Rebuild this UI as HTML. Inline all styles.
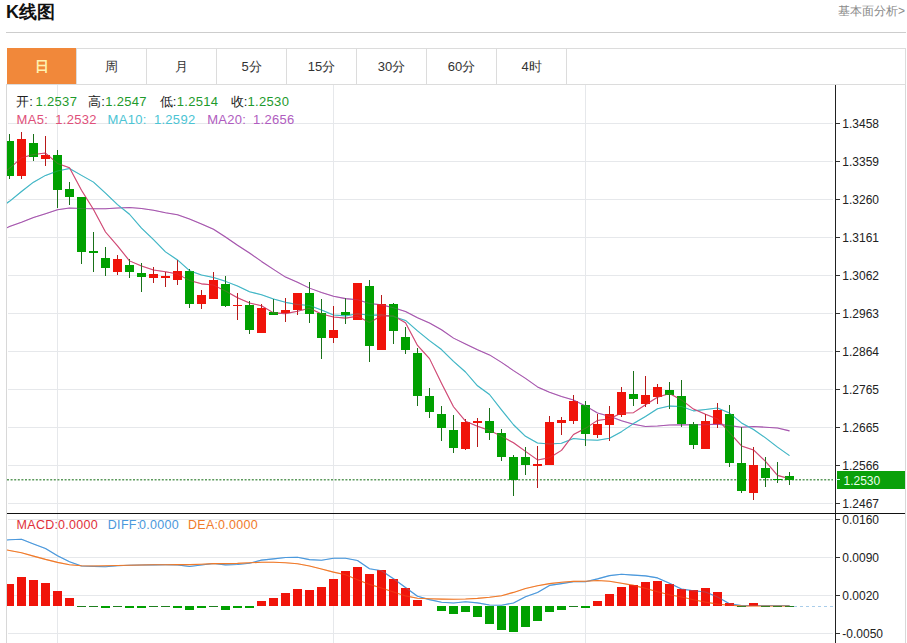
<!DOCTYPE html>
<html><head><meta charset="utf-8">
<style>
*{margin:0;padding:0;box-sizing:border-box}
html,body{width:907px;height:643px;overflow:hidden;background:#fff}
body{position:relative;font-family:"Liberation Sans",sans-serif;color:#333}
.t{position:absolute;white-space:nowrap;line-height:1}
#title{left:6px;top:2px;font-size:18px;font-weight:bold;color:#111;line-height:20px}
#more{right:2px;top:5px;font-size:12px;color:#8a8a8a;line-height:13px}
#hr{position:absolute;left:6px;top:32px;width:900px;height:1px;background:#cdcdcd}
#tabs{position:absolute;left:7px;top:48px;width:899px;height:37px;border:1px solid #dcdcdc;border-left:none}
.tab{position:absolute;top:48px;height:37px;width:70px;border-right:1px solid #dcdcdc;border-top:1px solid #dcdcdc;border-bottom:1px solid #dcdcdc;font-size:13px;line-height:35px;text-align:center;color:#333}
.tab.on{background:#f1883a;color:#fff2b0;border:none;border-right:1px solid #dcdcdc;background-clip:padding-box;height:36px;width:70px;line-height:36px;font-size:14px;font-weight:bold}
#panel{position:absolute;left:6px;top:84px;width:900px;height:570px;border-left:1px solid #d8d8d8;border-right:1px solid #d8d8d8}
.yl{position:absolute;left:842.3px;font-size:12px;line-height:14px;color:#222}
.hd{position:absolute;font-size:13px;line-height:15px;letter-spacing:0.3px}
</style></head><body>
<div class="t" id="title">K线图</div>
<div class="t" id="more">基本面分析&gt;</div>
<div id="hr"></div>
<div id="panel"></div>
<div id="tabs"></div>
<div class="tab on" style="left:7px">日</div>
<div class="tab" style="left:77px">周</div>
<div class="tab" style="left:147px">月</div>
<div class="tab" style="left:217px">5分</div>
<div class="tab" style="left:287px">15分</div>
<div class="tab" style="left:357px">30分</div>
<div class="tab" style="left:427px">60分</div>
<div class="tab" style="left:497px">4时</div>
<svg width="907" height="643" viewBox="0 0 907 643" style="position:absolute;left:0;top:0">
<defs><clipPath id="pc"><rect x="7" y="85" width="828" height="428"/></clipPath><clipPath id="mc"><rect x="7" y="514" width="828" height="129"/></clipPath></defs>
<path d="M8,123.5H833M8,161.5H833M8,199.5H833M8,237.5H833M8,275.5H833M8,313.5H833M8,351.5H833M8,389.5H833M8,427.5H833M8,465.5H833M8,503.5H833M8,519.5H833M8,557.5H833M8,595.5H833M8,633.5H833M57.5,85V643M333.5,85V643M585.5,85V643" stroke="#e6e8eb" stroke-width="1" fill="none"/>
<path d="M836,123.5H840M836,161.5H840M836,199.5H840M836,237.5H840M836,275.5H840M836,313.5H840M836,351.5H840M836,389.5H840M836,427.5H840M836,465.5H840M836,503.5H840M836,519.5H840M836,557.5H840M836,595.5H840M836,633.5H840" stroke="#333" stroke-width="1" fill="none"/>
<path d="M7,479.8H833" stroke="#5c9a5c" stroke-width="1.5" stroke-dasharray="2 1.6" fill="none"/>
<g clip-path="url(#pc)" fill="none" stroke-width="1.05" stroke-linejoin="round" opacity="1">
<path d="M-2.50,231.90L9.50,226.60L21.50,222.30L33.50,217.60L45.50,213.70L57.50,209.80L69.50,208.00L81.50,208.60L93.50,208.80L105.50,208.80L117.50,208.00L129.50,207.60L141.50,208.50L153.50,210.20L165.50,212.80L177.50,214.80L189.50,219.10L201.50,223.90L213.50,229.30L225.50,237.00L237.50,245.28L249.50,252.99L261.50,261.44L273.50,269.36L285.50,277.09L297.50,282.25L309.50,288.12L321.50,292.43L333.50,296.25L345.50,298.63L357.50,299.84L369.50,303.52L381.50,304.87L393.50,307.71L405.50,311.41L417.50,317.68L429.50,323.07L441.50,329.73L453.50,338.13L465.50,343.94L477.50,349.76L489.50,354.91L501.50,362.35L513.50,370.59L525.50,378.37L537.50,386.92L549.50,392.30L561.50,396.42L573.50,399.96L585.50,405.92L597.50,412.98L609.50,416.36L621.50,420.75L633.50,424.16L645.50,426.41L657.50,425.93L669.50,425.08L681.50,424.89L693.50,424.74L705.50,424.68L717.50,424.12L729.50,425.63L741.50,427.31L753.50,426.55L765.50,427.19L777.50,427.99L789.50,430.88" stroke="#a656ae"/>
<path d="M-2.50,209.50L9.50,201.30L21.50,191.50L33.50,182.20L45.50,175.40L57.50,170.90L69.50,168.50L81.50,175.40L93.50,182.10L105.50,193.10L117.50,204.60L129.50,214.26L141.50,228.05L153.50,239.73L165.50,251.82L177.50,259.95L189.50,270.64L201.50,274.90L213.50,277.56L225.50,281.37L237.50,285.96L249.50,291.72L261.50,294.84L273.50,298.99L285.50,302.36L297.50,304.55L309.50,305.60L321.50,309.95L333.50,314.94L345.50,315.89L357.50,313.73L369.50,315.32L381.50,314.89L393.50,316.43L405.50,320.46L417.50,330.80L429.50,340.55L441.50,349.51L453.50,361.32L465.50,371.99L477.50,385.79L489.50,394.50L501.50,409.82L513.50,424.75L525.50,436.28L537.50,443.04L549.50,444.05L561.50,443.33L573.50,438.60L585.50,439.84L597.50,440.16L609.50,438.22L621.50,431.67L633.50,423.57L645.50,416.54L657.50,408.81L669.50,406.11L681.50,406.46L693.50,410.87L705.50,409.52L717.50,408.09L729.50,413.04L741.50,422.94L753.50,429.53L765.50,437.83L777.50,447.17L789.50,455.64" stroke="#40b6c6"/>
<path d="M-2.50,177.40L9.50,168.30L21.50,157.80L33.50,154.40L45.50,153.10L57.50,163.40L69.50,167.64L81.50,190.16L93.50,209.44L105.50,231.98L117.50,245.80L129.50,260.88L141.50,265.94L153.50,270.02L165.50,271.66L177.50,274.10L189.50,280.40L201.50,283.86L213.50,285.10L225.50,291.08L237.50,297.82L249.50,303.04L261.50,305.82L273.50,312.88L285.50,313.64L297.50,311.28L309.50,308.16L321.50,314.08L333.50,317.00L345.50,318.14L357.50,316.18L369.50,322.48L381.50,315.70L393.50,315.86L405.50,322.78L417.50,345.42L429.50,358.62L441.50,383.32L453.50,406.78L465.50,421.20L477.50,426.16L489.50,430.38L501.50,436.32L513.50,442.72L525.50,451.36L537.50,459.92L549.50,457.72L561.50,450.34L573.50,434.48L585.50,428.32L597.50,420.40L609.50,418.72L621.50,413.00L633.50,412.66L645.50,404.76L657.50,397.22L669.50,393.50L681.50,399.92L693.50,409.08L705.50,414.28L717.50,418.96L729.50,432.58L741.50,445.96L753.50,449.98L765.50,461.38L777.50,475.38L789.50,478.70" stroke="#d04874"/>
</g>
<g clip-path="url(#pc)" shape-rendering="crispEdges">
<rect x="9" y="134" width="1" height="45" fill="#197019"/>
<rect x="5" y="141" width="9" height="35" fill="#00a000"/>
<rect x="21" y="132" width="1" height="47" fill="#b81818"/>
<rect x="17" y="139" width="9" height="37" fill="#f0140a"/>
<rect x="33" y="134" width="1" height="27" fill="#197019"/>
<rect x="29" y="143" width="9" height="14" fill="#00a000"/>
<rect x="45" y="136" width="1" height="30" fill="#b81818"/>
<rect x="41" y="155" width="9" height="4" fill="#f0140a"/>
<rect x="57" y="150" width="1" height="58" fill="#197019"/>
<rect x="53" y="155" width="9" height="35" fill="#00a000"/>
<rect x="69" y="182" width="1" height="23" fill="#197019"/>
<rect x="65" y="189" width="9" height="8" fill="#00a000"/>
<rect x="81" y="197" width="1" height="67" fill="#197019"/>
<rect x="77" y="197" width="9" height="55" fill="#00a000"/>
<rect x="93" y="232" width="1" height="40" fill="#197019"/>
<rect x="89" y="251" width="9" height="2" fill="#00a000"/>
<rect x="105" y="247" width="1" height="29" fill="#197019"/>
<rect x="101" y="258" width="9" height="10" fill="#00a000"/>
<rect x="117" y="255" width="1" height="20" fill="#b81818"/>
<rect x="113" y="259" width="9" height="13" fill="#f0140a"/>
<rect x="129" y="259" width="1" height="19" fill="#197019"/>
<rect x="125" y="265" width="9" height="7" fill="#00a000"/>
<rect x="141" y="263" width="1" height="29" fill="#197019"/>
<rect x="137" y="273" width="9" height="4" fill="#00a000"/>
<rect x="153" y="267" width="1" height="16" fill="#b81818"/>
<rect x="149" y="274" width="9" height="4" fill="#f0140a"/>
<rect x="165" y="272" width="1" height="15" fill="#b81818"/>
<rect x="161" y="276" width="9" height="2" fill="#f0140a"/>
<rect x="177" y="260" width="1" height="25" fill="#b81818"/>
<rect x="173" y="271" width="9" height="9" fill="#f0140a"/>
<rect x="189" y="269" width="1" height="39" fill="#197019"/>
<rect x="185" y="271" width="9" height="33" fill="#00a000"/>
<rect x="201" y="290" width="1" height="19" fill="#b81818"/>
<rect x="197" y="295" width="9" height="9" fill="#f0140a"/>
<rect x="213" y="272" width="1" height="27" fill="#b81818"/>
<rect x="209" y="280" width="9" height="19" fill="#f0140a"/>
<rect x="225" y="276" width="1" height="31" fill="#197019"/>
<rect x="221" y="284" width="9" height="22" fill="#00a000"/>
<rect x="237" y="293" width="1" height="27" fill="#b81818"/>
<rect x="233" y="305" width="9" height="1" fill="#f0140a"/>
<rect x="249" y="301" width="1" height="33" fill="#197019"/>
<rect x="245" y="305" width="9" height="25" fill="#00a000"/>
<rect x="261" y="304" width="1" height="29" fill="#b81818"/>
<rect x="257" y="308" width="9" height="25" fill="#f0140a"/>
<rect x="273" y="299" width="1" height="16" fill="#197019"/>
<rect x="269" y="312" width="9" height="3" fill="#00a000"/>
<rect x="285" y="298" width="1" height="24" fill="#b81818"/>
<rect x="281" y="310" width="9" height="3" fill="#f0140a"/>
<rect x="297" y="293" width="1" height="22" fill="#b81818"/>
<rect x="293" y="293" width="9" height="17" fill="#f0140a"/>
<rect x="309" y="282" width="1" height="41" fill="#197019"/>
<rect x="305" y="293" width="9" height="21" fill="#00a000"/>
<rect x="321" y="299" width="1" height="60" fill="#197019"/>
<rect x="317" y="313" width="9" height="25" fill="#00a000"/>
<rect x="333" y="306" width="1" height="37" fill="#b81818"/>
<rect x="329" y="330" width="9" height="8" fill="#f0140a"/>
<rect x="345" y="298" width="1" height="26" fill="#197019"/>
<rect x="341" y="312" width="9" height="3" fill="#00a000"/>
<rect x="357" y="283" width="1" height="37" fill="#b81818"/>
<rect x="353" y="283" width="9" height="37" fill="#f0140a"/>
<rect x="369" y="280" width="1" height="82" fill="#197019"/>
<rect x="365" y="286" width="9" height="60" fill="#00a000"/>
<rect x="381" y="295" width="1" height="55" fill="#b81818"/>
<rect x="377" y="304" width="9" height="46" fill="#f0140a"/>
<rect x="393" y="303" width="1" height="41" fill="#197019"/>
<rect x="389" y="304" width="9" height="27" fill="#00a000"/>
<rect x="405" y="327" width="1" height="27" fill="#197019"/>
<rect x="401" y="337" width="9" height="13" fill="#00a000"/>
<rect x="417" y="348" width="1" height="58" fill="#197019"/>
<rect x="413" y="353" width="9" height="43" fill="#00a000"/>
<rect x="429" y="388" width="1" height="30" fill="#197019"/>
<rect x="425" y="396" width="9" height="16" fill="#00a000"/>
<rect x="441" y="406" width="1" height="35" fill="#197019"/>
<rect x="437" y="414" width="9" height="14" fill="#00a000"/>
<rect x="453" y="415" width="1" height="38" fill="#197019"/>
<rect x="449" y="430" width="9" height="18" fill="#00a000"/>
<rect x="465" y="419" width="1" height="31" fill="#b81818"/>
<rect x="461" y="422" width="9" height="27" fill="#f0140a"/>
<rect x="477" y="418" width="1" height="29" fill="#b81818"/>
<rect x="473" y="421" width="9" height="2" fill="#f0140a"/>
<rect x="489" y="408" width="1" height="32" fill="#197019"/>
<rect x="485" y="421" width="9" height="12" fill="#00a000"/>
<rect x="501" y="429" width="1" height="32" fill="#197019"/>
<rect x="497" y="433" width="9" height="24" fill="#00a000"/>
<rect x="513" y="455" width="1" height="41" fill="#197019"/>
<rect x="509" y="457" width="9" height="23" fill="#00a000"/>
<rect x="525" y="447" width="1" height="28" fill="#197019"/>
<rect x="521" y="457" width="9" height="8" fill="#00a000"/>
<rect x="537" y="446" width="1" height="42" fill="#b81818"/>
<rect x="533" y="464" width="9" height="2" fill="#f0140a"/>
<rect x="549" y="416" width="1" height="49" fill="#b81818"/>
<rect x="545" y="422" width="9" height="43" fill="#f0140a"/>
<rect x="561" y="417" width="1" height="18" fill="#b81818"/>
<rect x="557" y="420" width="9" height="3" fill="#f0140a"/>
<rect x="573" y="395" width="1" height="29" fill="#b81818"/>
<rect x="569" y="401" width="9" height="20" fill="#f0140a"/>
<rect x="585" y="401" width="1" height="45" fill="#197019"/>
<rect x="581" y="405" width="9" height="29" fill="#00a000"/>
<rect x="597" y="414" width="1" height="24" fill="#b81818"/>
<rect x="593" y="424" width="9" height="11" fill="#f0140a"/>
<rect x="609" y="406" width="1" height="35" fill="#b81818"/>
<rect x="605" y="414" width="9" height="11" fill="#f0140a"/>
<rect x="621" y="387" width="1" height="30" fill="#b81818"/>
<rect x="617" y="392" width="9" height="23" fill="#f0140a"/>
<rect x="633" y="371" width="1" height="35" fill="#197019"/>
<rect x="629" y="394" width="9" height="5" fill="#00a000"/>
<rect x="645" y="376" width="1" height="31" fill="#b81818"/>
<rect x="641" y="395" width="9" height="9" fill="#f0140a"/>
<rect x="657" y="384" width="1" height="20" fill="#b81818"/>
<rect x="653" y="387" width="9" height="10" fill="#f0140a"/>
<rect x="669" y="382" width="1" height="27" fill="#197019"/>
<rect x="665" y="390" width="9" height="5" fill="#00a000"/>
<rect x="681" y="380" width="1" height="47" fill="#197019"/>
<rect x="677" y="396" width="9" height="28" fill="#00a000"/>
<rect x="693" y="422" width="1" height="27" fill="#197019"/>
<rect x="689" y="424" width="9" height="21" fill="#00a000"/>
<rect x="705" y="414" width="1" height="35" fill="#b81818"/>
<rect x="701" y="421" width="9" height="28" fill="#f0140a"/>
<rect x="717" y="403" width="1" height="25" fill="#b81818"/>
<rect x="713" y="410" width="9" height="14" fill="#f0140a"/>
<rect x="729" y="405" width="1" height="62" fill="#197019"/>
<rect x="725" y="414" width="9" height="49" fill="#00a000"/>
<rect x="741" y="427" width="1" height="66" fill="#197019"/>
<rect x="737" y="463" width="9" height="28" fill="#00a000"/>
<rect x="753" y="447" width="1" height="53" fill="#b81818"/>
<rect x="749" y="465" width="9" height="28" fill="#f0140a"/>
<rect x="765" y="457" width="1" height="30" fill="#197019"/>
<rect x="761" y="468" width="9" height="10" fill="#00a000"/>
<rect x="777" y="462" width="1" height="21" fill="#197019"/>
<rect x="773" y="479" width="9" height="1" fill="#00a000"/>
<rect x="789" y="472" width="1" height="13" fill="#197019"/>
<rect x="785" y="476" width="9" height="4" fill="#00a000"/>
</g>
<g clip-path="url(#pc)" fill="none" stroke-width="1.05" stroke-linejoin="round" opacity="0.3">
<path d="M-2.50,231.90L9.50,226.60L21.50,222.30L33.50,217.60L45.50,213.70L57.50,209.80L69.50,208.00L81.50,208.60L93.50,208.80L105.50,208.80L117.50,208.00L129.50,207.60L141.50,208.50L153.50,210.20L165.50,212.80L177.50,214.80L189.50,219.10L201.50,223.90L213.50,229.30L225.50,237.00L237.50,245.28L249.50,252.99L261.50,261.44L273.50,269.36L285.50,277.09L297.50,282.25L309.50,288.12L321.50,292.43L333.50,296.25L345.50,298.63L357.50,299.84L369.50,303.52L381.50,304.87L393.50,307.71L405.50,311.41L417.50,317.68L429.50,323.07L441.50,329.73L453.50,338.13L465.50,343.94L477.50,349.76L489.50,354.91L501.50,362.35L513.50,370.59L525.50,378.37L537.50,386.92L549.50,392.30L561.50,396.42L573.50,399.96L585.50,405.92L597.50,412.98L609.50,416.36L621.50,420.75L633.50,424.16L645.50,426.41L657.50,425.93L669.50,425.08L681.50,424.89L693.50,424.74L705.50,424.68L717.50,424.12L729.50,425.63L741.50,427.31L753.50,426.55L765.50,427.19L777.50,427.99L789.50,430.88" stroke="#a656ae"/>
<path d="M-2.50,209.50L9.50,201.30L21.50,191.50L33.50,182.20L45.50,175.40L57.50,170.90L69.50,168.50L81.50,175.40L93.50,182.10L105.50,193.10L117.50,204.60L129.50,214.26L141.50,228.05L153.50,239.73L165.50,251.82L177.50,259.95L189.50,270.64L201.50,274.90L213.50,277.56L225.50,281.37L237.50,285.96L249.50,291.72L261.50,294.84L273.50,298.99L285.50,302.36L297.50,304.55L309.50,305.60L321.50,309.95L333.50,314.94L345.50,315.89L357.50,313.73L369.50,315.32L381.50,314.89L393.50,316.43L405.50,320.46L417.50,330.80L429.50,340.55L441.50,349.51L453.50,361.32L465.50,371.99L477.50,385.79L489.50,394.50L501.50,409.82L513.50,424.75L525.50,436.28L537.50,443.04L549.50,444.05L561.50,443.33L573.50,438.60L585.50,439.84L597.50,440.16L609.50,438.22L621.50,431.67L633.50,423.57L645.50,416.54L657.50,408.81L669.50,406.11L681.50,406.46L693.50,410.87L705.50,409.52L717.50,408.09L729.50,413.04L741.50,422.94L753.50,429.53L765.50,437.83L777.50,447.17L789.50,455.64" stroke="#40b6c6"/>
<path d="M-2.50,177.40L9.50,168.30L21.50,157.80L33.50,154.40L45.50,153.10L57.50,163.40L69.50,167.64L81.50,190.16L93.50,209.44L105.50,231.98L117.50,245.80L129.50,260.88L141.50,265.94L153.50,270.02L165.50,271.66L177.50,274.10L189.50,280.40L201.50,283.86L213.50,285.10L225.50,291.08L237.50,297.82L249.50,303.04L261.50,305.82L273.50,312.88L285.50,313.64L297.50,311.28L309.50,308.16L321.50,314.08L333.50,317.00L345.50,318.14L357.50,316.18L369.50,322.48L381.50,315.70L393.50,315.86L405.50,322.78L417.50,345.42L429.50,358.62L441.50,383.32L453.50,406.78L465.50,421.20L477.50,426.16L489.50,430.38L501.50,436.32L513.50,442.72L525.50,451.36L537.50,459.92L549.50,457.72L561.50,450.34L573.50,434.48L585.50,428.32L597.50,420.40L609.50,418.72L621.50,413.00L633.50,412.66L645.50,404.76L657.50,397.22L669.50,393.50L681.50,399.92L693.50,409.08L705.50,414.28L717.50,418.96L729.50,432.58L741.50,445.96L753.50,449.98L765.50,461.38L777.50,475.38L789.50,478.70" stroke="#d04874"/>
</g>
<path d="M794,606.5H833" stroke="#a9cdea" stroke-width="1" stroke-dasharray="3 3" fill="none"/>
<g clip-path="url(#mc)" fill="none" stroke-width="1.1" stroke-linejoin="round" opacity="1">
<path d="M-2.50,540.86L9.50,539.70L21.50,539.30L33.50,543.90L45.50,548.50L57.50,555.80L69.50,561.80L81.50,566.00L93.50,566.40L105.50,566.80L117.50,565.70L129.50,565.20L141.50,565.00L153.50,564.90L165.50,564.80L177.50,564.90L189.50,566.50L201.50,565.00L213.50,563.50L225.50,564.90L237.50,564.50L249.50,563.20L261.50,560.10L273.50,558.90L285.50,557.50L297.50,557.20L309.50,559.60L321.50,560.30L333.50,558.20L345.50,558.20L357.50,560.50L369.50,568.80L381.50,570.80L393.50,578.70L405.50,587.50L417.50,596.30L429.50,599.60L441.50,602.20L453.50,603.00L465.50,601.80L477.50,602.90L489.50,605.00L501.50,605.20L513.50,603.00L525.50,596.80L537.50,592.40L549.50,585.40L561.50,583.60L573.50,581.80L585.50,581.80L597.50,578.90L609.50,575.60L621.50,574.20L633.50,575.10L645.50,575.90L657.50,577.90L669.50,583.20L681.50,589.10L693.50,590.70L705.50,592.00L717.50,597.00L729.50,603.70L741.50,605.60L753.50,605.50L765.50,605.50L777.50,605.50L789.50,605.50" stroke="#4a98dc"/>
<path d="M-2.50,548.18L9.50,550.50L21.50,552.80L33.50,556.10L45.50,559.40L57.50,562.40L69.50,564.70L81.50,565.70L93.50,566.00L105.50,565.70L117.50,565.50L129.50,565.20L141.50,565.00L153.50,564.80L165.50,564.70L177.50,564.60L189.50,564.60L201.50,564.20L213.50,563.60L225.50,563.60L237.50,563.40L249.50,562.80L261.50,562.20L273.50,562.20L285.50,562.80L297.50,563.80L309.50,566.00L321.50,569.00L333.50,572.10L345.50,574.80L357.50,579.70L369.50,584.40L381.50,588.00L393.50,592.00L405.50,595.90L417.50,598.30L429.50,598.80L441.50,599.10L453.50,599.30L465.50,599.00L477.50,598.40L489.50,597.20L501.50,595.70L513.50,592.40L525.50,588.50L537.50,585.80L549.50,583.60L561.50,582.20L573.50,581.40L585.50,581.20L597.50,580.50L609.50,581.20L621.50,583.20L633.50,585.40L645.50,588.40L657.50,591.80L669.50,594.70L681.50,597.00L693.50,599.70L705.50,602.10L717.50,604.10L729.50,605.20L741.50,605.90L753.50,606.00L765.50,606.00L777.50,606.00L789.50,606.00" stroke="#f07a2a"/>
</g>
<g clip-path="url(#mc)" shape-rendering="crispEdges">
<rect x="5" y="584" width="9" height="22" fill="#f0140a"/>
<rect x="17" y="577" width="9" height="29" fill="#f0140a"/>
<rect x="29" y="580" width="9" height="26" fill="#f0140a"/>
<rect x="41" y="583" width="9" height="23" fill="#f0140a"/>
<rect x="53" y="591" width="9" height="15" fill="#f0140a"/>
<rect x="65" y="598" width="9" height="8" fill="#f0140a"/>
<rect x="77" y="606" width="9" height="1" fill="#1f7f1f"/>
<rect x="89" y="606" width="9" height="1" fill="#1f7f1f"/>
<rect x="101" y="606" width="9" height="2" fill="#00a000"/>
<rect x="113" y="606" width="9" height="1" fill="#1f7f1f"/>
<rect x="125" y="606" width="9" height="2" fill="#00a000"/>
<rect x="137" y="606" width="9" height="2" fill="#00a000"/>
<rect x="149" y="606" width="9" height="1" fill="#1f7f1f"/>
<rect x="161" y="606" width="9" height="1" fill="#1f7f1f"/>
<rect x="173" y="606" width="9" height="2" fill="#00a000"/>
<rect x="185" y="606" width="9" height="4" fill="#00a000"/>
<rect x="197" y="606" width="9" height="2" fill="#00a000"/>
<rect x="209" y="606" width="9" height="1" fill="#1f7f1f"/>
<rect x="221" y="606" width="9" height="4" fill="#00a000"/>
<rect x="233" y="606" width="9" height="2" fill="#00a000"/>
<rect x="245" y="606" width="9" height="2" fill="#00a000"/>
<rect x="257" y="601" width="9" height="5" fill="#f0140a"/>
<rect x="269" y="598" width="9" height="8" fill="#f0140a"/>
<rect x="281" y="593" width="9" height="13" fill="#f0140a"/>
<rect x="293" y="589" width="9" height="17" fill="#f0140a"/>
<rect x="305" y="590" width="9" height="16" fill="#f0140a"/>
<rect x="317" y="587" width="9" height="19" fill="#f0140a"/>
<rect x="329" y="579" width="9" height="27" fill="#f0140a"/>
<rect x="341" y="571" width="9" height="35" fill="#f0140a"/>
<rect x="353" y="567" width="9" height="39" fill="#f0140a"/>
<rect x="365" y="574" width="9" height="32" fill="#f0140a"/>
<rect x="377" y="570" width="9" height="36" fill="#f0140a"/>
<rect x="389" y="579" width="9" height="27" fill="#f0140a"/>
<rect x="401" y="588" width="9" height="18" fill="#f0140a"/>
<rect x="413" y="600" width="9" height="6" fill="#f0140a"/>
<rect x="437" y="606" width="9" height="5" fill="#00a000"/>
<rect x="449" y="606" width="9" height="8" fill="#00a000"/>
<rect x="461" y="606" width="9" height="6" fill="#00a000"/>
<rect x="473" y="606" width="9" height="11" fill="#00a000"/>
<rect x="485" y="606" width="9" height="18" fill="#00a000"/>
<rect x="497" y="606" width="9" height="24" fill="#00a000"/>
<rect x="509" y="606" width="9" height="26" fill="#00a000"/>
<rect x="521" y="606" width="9" height="21" fill="#00a000"/>
<rect x="533" y="606" width="9" height="15" fill="#00a000"/>
<rect x="545" y="606" width="9" height="6" fill="#00a000"/>
<rect x="557" y="606" width="9" height="4" fill="#00a000"/>
<rect x="569" y="606" width="9" height="1" fill="#1f7f1f"/>
<rect x="581" y="606" width="9" height="2" fill="#00a000"/>
<rect x="593" y="601" width="9" height="5" fill="#f0140a"/>
<rect x="605" y="594" width="9" height="12" fill="#f0140a"/>
<rect x="617" y="587" width="9" height="19" fill="#f0140a"/>
<rect x="629" y="585" width="9" height="21" fill="#f0140a"/>
<rect x="641" y="582" width="9" height="24" fill="#f0140a"/>
<rect x="653" y="581" width="9" height="25" fill="#f0140a"/>
<rect x="665" y="584" width="9" height="22" fill="#f0140a"/>
<rect x="677" y="589" width="9" height="17" fill="#f0140a"/>
<rect x="689" y="590" width="9" height="16" fill="#f0140a"/>
<rect x="701" y="588" width="9" height="18" fill="#f0140a"/>
<rect x="713" y="592" width="9" height="14" fill="#f0140a"/>
<rect x="725" y="603" width="9" height="3" fill="#f0140a"/>
<rect x="737" y="606" width="9" height="1" fill="#1f7f1f"/>
<rect x="749" y="603" width="9" height="3" fill="#f0140a"/>
<rect x="761" y="606" width="9" height="1" fill="#1f7f1f"/>
<rect x="773" y="606" width="9" height="1" fill="#1f7f1f"/>
<rect x="785" y="606" width="9" height="1" fill="#1f7f1f"/>
</g>
<g clip-path="url(#mc)" fill="none" stroke-width="1.1" stroke-linejoin="round" opacity="0.3">
<path d="M-2.50,540.86L9.50,539.70L21.50,539.30L33.50,543.90L45.50,548.50L57.50,555.80L69.50,561.80L81.50,566.00L93.50,566.40L105.50,566.80L117.50,565.70L129.50,565.20L141.50,565.00L153.50,564.90L165.50,564.80L177.50,564.90L189.50,566.50L201.50,565.00L213.50,563.50L225.50,564.90L237.50,564.50L249.50,563.20L261.50,560.10L273.50,558.90L285.50,557.50L297.50,557.20L309.50,559.60L321.50,560.30L333.50,558.20L345.50,558.20L357.50,560.50L369.50,568.80L381.50,570.80L393.50,578.70L405.50,587.50L417.50,596.30L429.50,599.60L441.50,602.20L453.50,603.00L465.50,601.80L477.50,602.90L489.50,605.00L501.50,605.20L513.50,603.00L525.50,596.80L537.50,592.40L549.50,585.40L561.50,583.60L573.50,581.80L585.50,581.80L597.50,578.90L609.50,575.60L621.50,574.20L633.50,575.10L645.50,575.90L657.50,577.90L669.50,583.20L681.50,589.10L693.50,590.70L705.50,592.00L717.50,597.00L729.50,603.70L741.50,605.60L753.50,605.50L765.50,605.50L777.50,605.50L789.50,605.50" stroke="#4a98dc"/>
<path d="M-2.50,548.18L9.50,550.50L21.50,552.80L33.50,556.10L45.50,559.40L57.50,562.40L69.50,564.70L81.50,565.70L93.50,566.00L105.50,565.70L117.50,565.50L129.50,565.20L141.50,565.00L153.50,564.80L165.50,564.70L177.50,564.60L189.50,564.60L201.50,564.20L213.50,563.60L225.50,563.60L237.50,563.40L249.50,562.80L261.50,562.20L273.50,562.20L285.50,562.80L297.50,563.80L309.50,566.00L321.50,569.00L333.50,572.10L345.50,574.80L357.50,579.70L369.50,584.40L381.50,588.00L393.50,592.00L405.50,595.90L417.50,598.30L429.50,598.80L441.50,599.10L453.50,599.30L465.50,599.00L477.50,598.40L489.50,597.20L501.50,595.70L513.50,592.40L525.50,588.50L537.50,585.80L549.50,583.60L561.50,582.20L573.50,581.40L585.50,581.20L597.50,580.50L609.50,581.20L621.50,583.20L633.50,585.40L645.50,588.40L657.50,591.80L669.50,594.70L681.50,597.00L693.50,599.70L705.50,602.10L717.50,604.10L729.50,605.20L741.50,605.90L753.50,606.00L765.50,606.00L777.50,606.00L789.50,606.00" stroke="#f07a2a"/>
</g>
<path d="M835.5,85V643" stroke="#222" stroke-width="1" fill="none"/>
<path d="M7,513.5H905" stroke="#111" stroke-width="1.2" fill="none"/>
<rect x="837" y="471" width="68" height="18" fill="#0aa00a"/>
<path d="M836,479.5H840" stroke="#cfe" stroke-width="1"/>
</svg>
<div class="yl" style="top:116.5px">1.3458</div>
<div class="yl" style="top:154.5px">1.3359</div>
<div class="yl" style="top:192.5px">1.3260</div>
<div class="yl" style="top:230.5px">1.3161</div>
<div class="yl" style="top:268.5px">1.3062</div>
<div class="yl" style="top:306.5px">1.2963</div>
<div class="yl" style="top:344.5px">1.2864</div>
<div class="yl" style="top:382.5px">1.2765</div>
<div class="yl" style="top:420.5px">1.2665</div>
<div class="yl" style="top:458.5px">1.2566</div>
<div class="yl" style="top:496.5px">1.2467</div>
<div class="yl" style="top:512.5px">0.0160</div>
<div class="yl" style="top:550.5px">0.0090</div>
<div class="yl" style="top:588.5px">0.0020</div>
<div class="yl" style="top:626.5px">-0.0050</div>
<div class="yl" style="top:473.5px;left:843.5px;color:#eaffea">1.2530</div>
<div class="hd" style="left:16px;top:94px;color:#222">开:</div><div class="hd" style="left:35.6px;top:94px;color:#1e9a2c">1.2537</div>
<div class="hd" style="left:88px;top:94px;color:#222">高:</div><div class="hd" style="left:105.3px;top:94px;color:#1e9a2c">1.2547</div>
<div class="hd" style="left:159.5px;top:94px;color:#222">低:</div><div class="hd" style="left:176.8px;top:94px;color:#1e9a2c">1.2514</div>
<div class="hd" style="left:230.5px;top:94px;color:#222">收:</div><div class="hd" style="left:247.6px;top:94px;color:#1e9a2c">1.2530</div>
<div class="hd" style="left:16.6px;top:112px;color:#e0507a">MA5:</div>
<div class="hd" style="left:55.3px;top:112px;color:#e0507a">1.2532</div>
<div class="hd" style="left:107.6px;top:112px;color:#4cc4d4">MA10:</div>
<div class="hd" style="left:153.9px;top:112px;color:#4cc4d4">1.2592</div>
<div class="hd" style="left:207.2px;top:112px;color:#b05cc0">MA20:</div>
<div class="hd" style="left:253px;top:112px;color:#b05cc0">1.2656</div>
<div class="hd" style="left:16.6px;top:518px;font-size:12.5px;color:#e0303a">MACD:</div>
<div class="hd" style="left:57.9px;top:518px;font-size:12.5px;color:#e0303a">0.0000</div>
<div class="hd" style="left:107.8px;top:518px;font-size:12.5px;color:#4a98dc">DIFF:</div>
<div class="hd" style="left:138.9px;top:518px;font-size:12.5px;color:#4a98dc">0.0000</div>
<div class="hd" style="left:188px;top:518px;font-size:12.5px;color:#f07a2a">DEA:</div>
<div class="hd" style="left:218px;top:518px;font-size:12.5px;color:#f07a2a">0.0000</div>
</body></html>
